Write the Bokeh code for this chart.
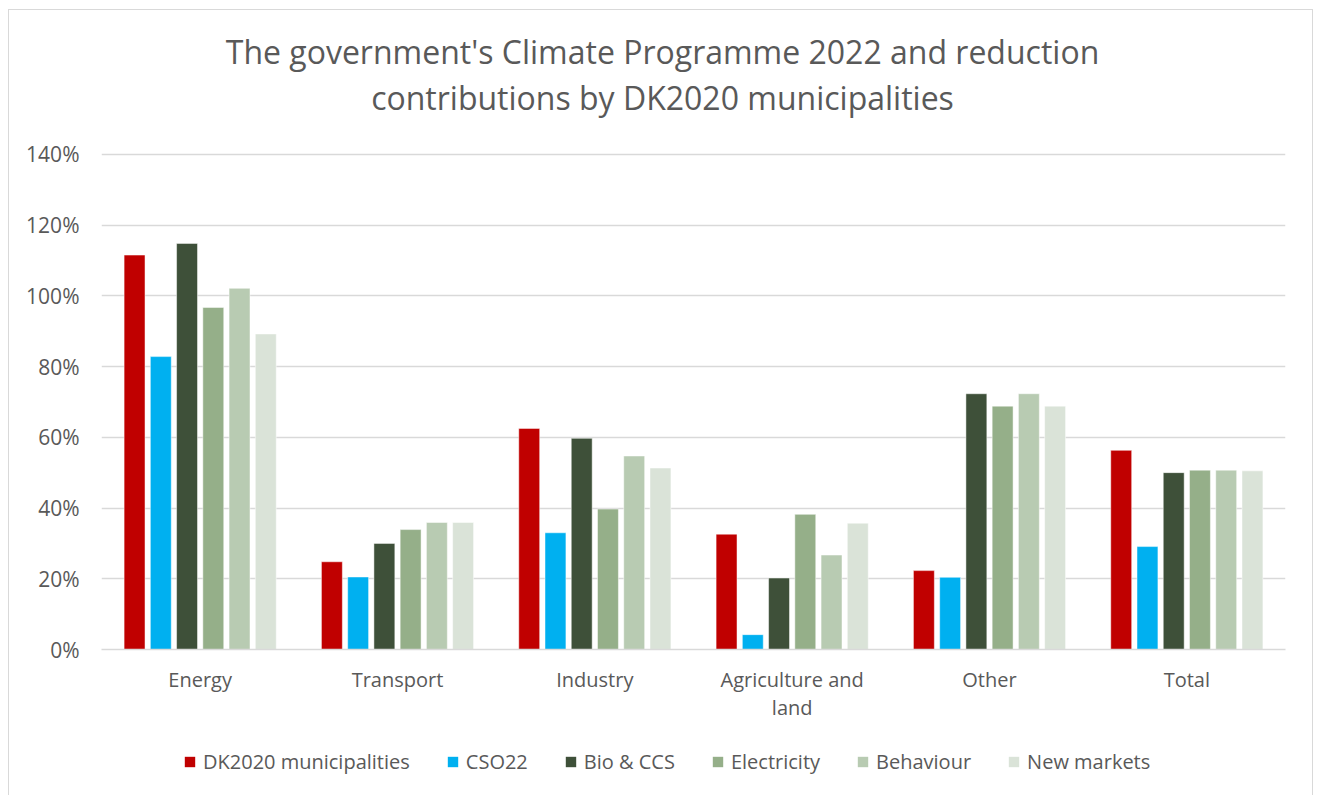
from bokeh.plotting import figure
from bokeh.layouts import column
from bokeh.models import (FactorRange, Legend, LegendItem, NumeralTickFormatter,
                          Label, ColumnDataSource, FixedTicker, InlineStyleSheet)
from bokeh.transform import dodge
from bokeh.embed import file_html
from bokeh.resources import INLINE

categories = ["Energy", "Transport", "Industry", "Agriculture and\nland", "Other", "Total"]
series_names = ["DK2020 municipalities", "CSO22", "Bio & CCS", "Electricity", "Behaviour", "New markets"]
dk2020 = [1.115, 0.248, 0.625, 0.326, 0.223, 0.563]
cso22 = [0.828, 0.205, 0.330, 0.042, 0.204, 0.291]
bio_ccs = [1.148, 0.300, 0.597, 0.202, 0.723, 0.500]
electricity = [0.967, 0.339, 0.397, 0.382, 0.688, 0.507]
behaviour = [1.021, 0.359, 0.547, 0.267, 0.723, 0.507]
new_markets = [0.892, 0.359, 0.513, 0.357, 0.688, 0.505]
y_ticks = [0, 0.2, 0.4, 0.6, 0.8, 1.0, 1.2, 1.4]
colors = ["#C00000", "#00B0F0", "#3E5039", "#95AF89", "#B8CBB2", "#DAE3D8"]
title_lines = ["The government's Climate Programme 2022 and reduction",
               "contributions by DK2020 municipalities"]

FONT = "Open Sans"
TXT = "#595959"

src = ColumnDataSource(dict(cat=categories, s0=dk2020, s1=cso22, s2=bio_ccs,
                            s3=electricity, s4=behaviour, s5=new_markets))

W = 1318
H_TITLE, H_MAIN, H_LEG = 132, 608, 55
FL, FR = 101, 1285
TOP_PAD = 20           # space above the frame inside the main figure
FRAME_H = 649 - (H_TITLE + TOP_PAD)
SHIFT = 100            # observed left offset of the strip figures' frames

def bare(fig):
    fig.outline_line_color = None
    fig.background_fill_color = "white"
    fig.border_fill_color = "white"
    return fig

# ---- title strip
th = bare(figure(width=W, height=H_TITLE, output_backend="svg", toolbar_location=None,
                 min_border=0, x_axis_location=None, y_axis_location=None,
                 x_range=(0, 1), y_range=(0, 1)))
th.grid.visible = False
for t, ys in zip(title_lines, [51, 97]):
    th.add_layout(Label(x=W / 2 + 2 - SHIFT, y=H_TITLE - ys, x_units="screen", y_units="screen",
                        text=t, text_align="center", text_baseline="middle",
                        text_font=FONT, text_font_size="32px", text_color=TXT))

# ---- main chart
p = bare(figure(width=W, height=H_MAIN, x_range=FactorRange(*categories, range_padding=0),
                y_range=(0, 1.405), output_backend="svg", toolbar_location=None,
                min_border_left=FL, min_border_right=W - FR, min_border_top=TOP_PAD,
                min_border_bottom=H_MAIN - TOP_PAD - FRAME_H))

pitch = 0.133
bw = 0.106
for i, col in enumerate(colors):
    p.vbar(x=dodge("cat", (i - 2.5) * pitch, range=p.x_range), top="s%d" % i,
           width=bw, source=src, fill_color=col, line_color="white",
           line_width=0.8, line_alpha=0.6)

p.yaxis.ticker = FixedTicker(ticks=y_ticks)
p.yaxis.formatter = NumeralTickFormatter(format="0%")
p.yaxis.axis_line_color = None
p.yaxis.major_tick_line_color = None
p.yaxis.minor_tick_line_color = None
p.yaxis.major_label_text_font = FONT
p.yaxis.major_label_text_font_size = "21px"
p.yaxis.major_label_text_color = TXT
p.yaxis.major_label_standoff = 16

p.xaxis.axis_line_color = "#D9D9D9"
p.xaxis.axis_line_width = 1.5
p.xaxis.major_tick_line_color = None
p.xaxis.minor_tick_line_color = None
p.xaxis.major_label_text_font = FONT
p.xaxis.major_label_text_font_size = "20px"
p.xaxis.major_label_text_color = TXT
p.xaxis.major_label_standoff = 10
p.xaxis.major_label_text_line_height = 1.05

p.xgrid.grid_line_color = None
p.ygrid.ticker = FixedTicker(ticks=y_ticks)
p.ygrid.grid_line_color = "#D9D9D9"
p.ygrid.grid_line_width = 1.5

# ---- legend strip (bars drawn below its visible y-range, only the legend shows)
lg = bare(figure(width=W, height=H_LEG, output_backend="svg", toolbar_location=None,
                 min_border=0, x_axis_location=None, y_axis_location=None,
                 x_range=FactorRange(*categories), y_range=(5, 6)))
lg.grid.visible = False
items = []
for i, (name, col) in enumerate(zip(series_names, colors)):
    r = lg.vbar(x="cat", top="s%d" % i, width=0.1, source=src,
                fill_color=col, line_color=None)
    items.append(LegendItem(label=name, renderers=[r]))
legend = Legend(items=items, orientation="horizontal", location=(179 - 97, 20),
                label_text_font=FONT, label_text_font_size="20px",
                label_text_color=TXT, glyph_width=13, glyph_height=13,
                label_standoff=7, spacing=36, border_line_color=None,
                background_fill_alpha=0, margin=0, padding=4)
lg.add_layout(legend, "center")

layout = column(th, p, lg, spacing=0)
layout.stylesheets = [InlineStyleSheet(css=":host{position:relative;} :host::after{content:'';position:absolute;left:8px;top:9px;width:1305px;height:820px;border:1.5px solid #D9D9D9;pointer-events:none;box-sizing:border-box;}")]

open("out.html", "w").write(file_html(layout, INLINE))
